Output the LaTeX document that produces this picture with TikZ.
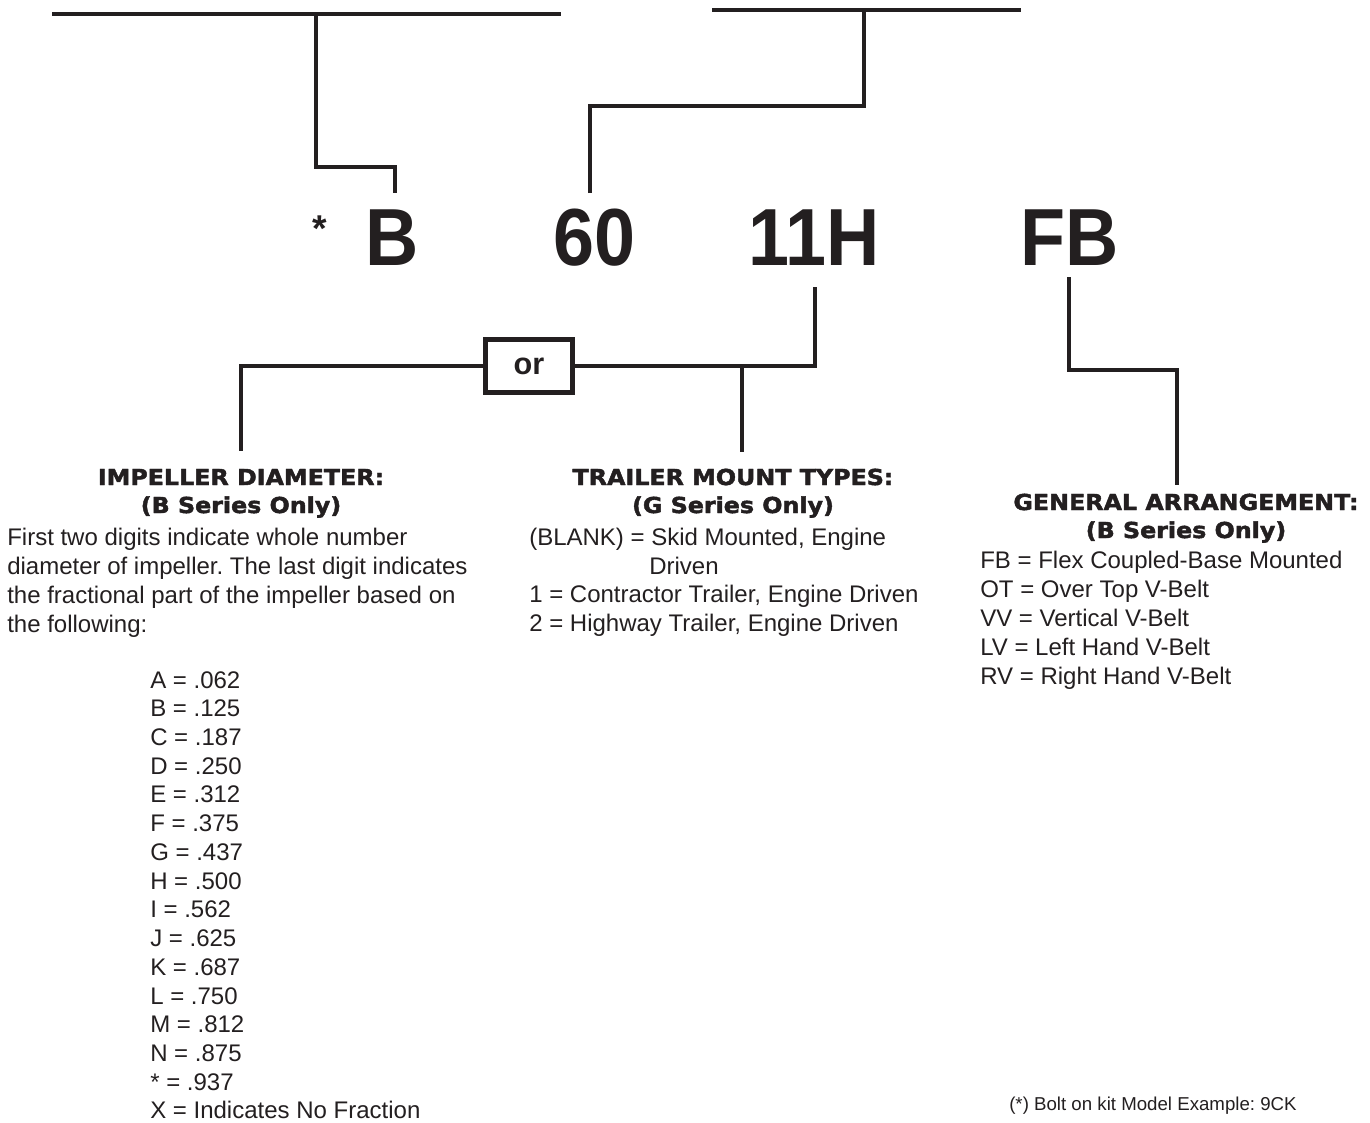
\documentclass[tikz,border=0pt]{standalone}
\usepackage{fontspec}
\setmainfont{Liberation Sans}
\newfontfamily\bigfont[FakeStretch=0.91]{Liberation Sans}
\newfontfamily\headfont[FakeStretch=1.08,FakeBold=2]{DejaVu Sans}
\definecolor{ink}{RGB}{35,31,32}
\frenchspacing
\begin{document}
\begin{tikzpicture}[x=0.75pt,y=-0.75pt,
  conn/.style={line width=3.7pt, draw=ink, line join=miter, line cap=butt},
  bigcode/.style={anchor=base, inner sep=0pt, text=ink, font=\bigfont\bfseries\fontsize{60.75}{62}\selectfont},
  starmark/.style={anchor=base, inner sep=0pt, text=ink, font=\bfseries\fontsize{28}{30}\selectfont},
  orbox/.style={draw=ink, line width=3.7pt, minimum width=65.25pt, minimum height=39.75pt, inner sep=0pt, text=ink, font=\bfseries\fontsize{23}{25}\selectfont},
  head/.style={anchor=base, inner sep=0pt, text=ink, font=\headfont\bfseries\fontsize{16.5}{18}\selectfont},
  body/.style={anchor=base west, inner sep=0pt, text=ink, font=\fontsize{18}{20}\selectfont},
  foot/.style={anchor=base west, inner sep=0pt, text=ink, font=\fontsize{14}{16}\selectfont}]
\useasboundingbox (0,0) rectangle (1370,1122);

% code letters
\node[starmark] (kstar) at (320,241) {*};
\node[bigcode] (kB) at (392,265) {B};
\node[bigcode] (k60) at (594.5,265) {60};
\node[bigcode] (k11H) at (814,265) {11H};
\node[bigcode] (kFB) at (1069.5,265) {FB};

% top-left bracket
\coordinate (topA1) at (52,14);
\coordinate (topA2) at (561,14);
\coordinate (jA) at (316,14);
\coordinate (bendB) at (395,167);
\coordinate (endB) at (395,193);
\draw[conn] (topA1) -- (topA2);
\draw[conn] (jA) |- (bendB) -- (endB);

% top-right bracket
\coordinate (topB1) at (712,10);
\coordinate (topB2) at (1021,10);
\coordinate (jB) at (864,10);
\coordinate (bend60) at (864,106);
\coordinate (end60) at (590,193);
\draw[conn] (topB1) -- (topB2);
\draw[conn] (end60) |- (bend60) -- (jB);

% 11H connector with or box
\node[orbox] (orb) at (529,366) {or};
\coordinate (start11) at (815,287);
\coordinate (impTop) at (241,451);
\coordinate (midJ) at (742,366);
\coordinate (trTop) at (742,452);
\draw[conn] (start11) |- (orb.east);
\draw[conn] (orb.west) -| (impTop);
\draw[conn] (midJ) -- (trTop);

% FB connector
\coordinate (startFB) at (1069,277);
\coordinate (bendFB) at (1177,370);
\coordinate (gaTop) at (1177,485);
\draw[conn] (startFB) |- (bendFB) -- (gaTop);

% Impeller diameter
\node[head] (h1a) at (241,485) {IMPELLER DIAMETER:};
\node[head] (h1b) at (241,513) {(B Series Only)};
\node[body] (b1a) at (7,545) {First two digits indicate whole number};
\node[body] (b1b) at (7,574) {diameter of impeller. The last digit indicates};
\node[body] (b1c) at (7,603) {the fractional part of the impeller based on};
\node[body] (b1d) at (7,632) {the following:};
\foreach \t [count=\i from 0] in {A = .062, B = .125, C = .187, D = .250, E = .312, F = .375, G = .437, H = .500, I = .562, J = .625, K = .687, L = .750, M = .812, N = .875, * = .937, X = Indicates No Fraction}
  \node[body] (lst\i) at (150,688+28.73*\i) {\t};

% Trailer mount types
\node[head] (h2a) at (733,485) {TRAILER MOUNT TYPES:};
\node[head] (h2b) at (733,513) {(G Series Only)};
\node[body] (b2a) at (529,545) {(BLANK) = Skid Mounted, Engine};
\node[body] (b2b) at (649,574) {Driven};
\node[body] (b2c) at (529,602) {1 = Contractor Trailer, Engine Driven};
\node[body] (b2d) at (529,631) {2 = Highway Trailer, Engine Driven};

% General arrangement
\node[head] (h3a) at (1186,510) {GENERAL ARRANGEMENT:};
\node[head] (h3b) at (1186,538) {(B Series Only)};
\node[body] (b3a) at (980,568) {FB = Flex Coupled-Base Mounted};
\node[body] (b3b) at (980,597) {OT = Over Top V-Belt};
\node[body] (b3c) at (980,626) {VV = Vertical V-Belt};
\node[body] (b3d) at (980,655) {LV = Left Hand V-Belt};
\node[body] (b3e) at (980,684) {RV = Right Hand V-Belt};

% footnote
\node[foot] (fn) at (1009,1110) {(*) Bolt on kit Model Example: 9CK};
\end{tikzpicture}
\end{document}
